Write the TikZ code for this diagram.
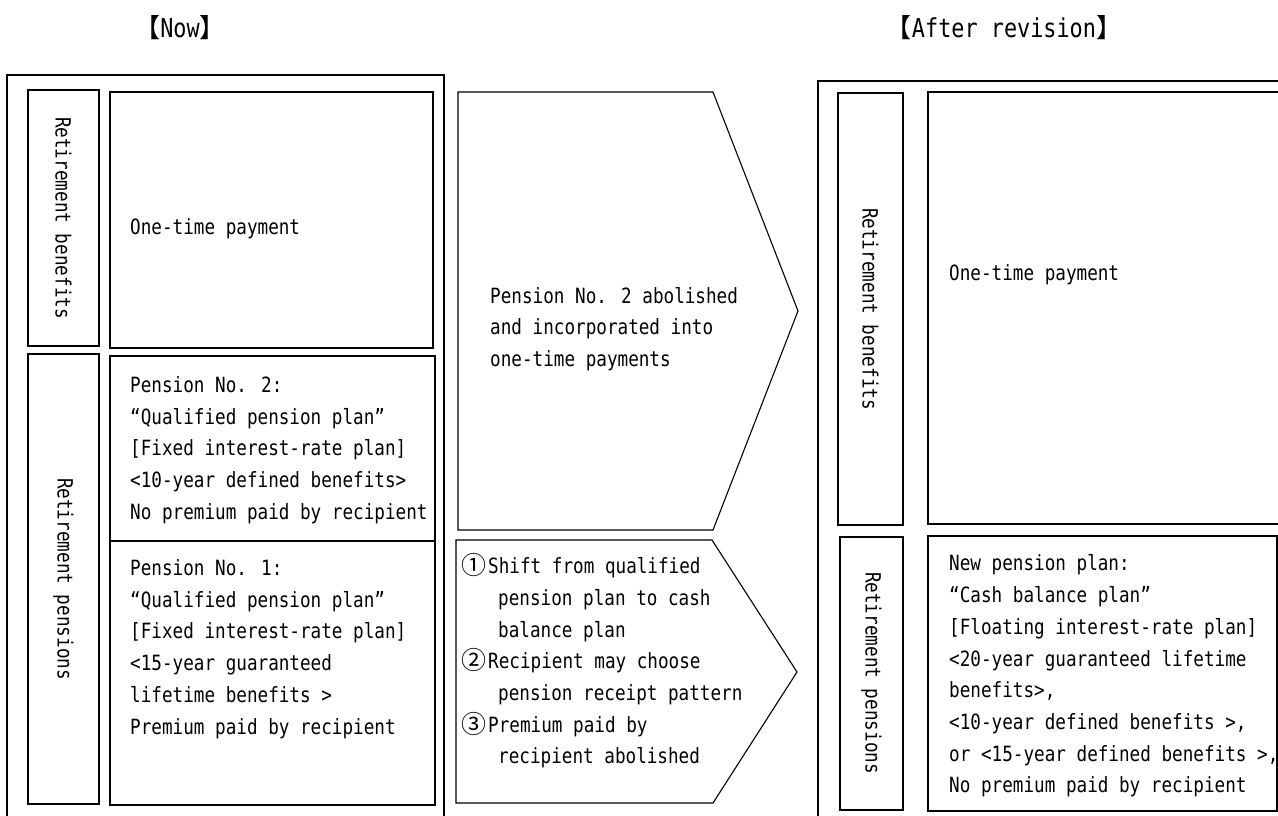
\documentclass[tikz,border=0pt]{standalone}
\usepackage{fontspec}
\newfontfamily\gothic[FakeStretch=0.84]{DejaVu Sans Mono}
\newfontfamily\cjk{Noto Sans CJK JP}
\newfontfamily\cjkh[RawFeature=+halt]{Noto Sans CJK JP}
\newcommand{\circd}[1]{\makebox[27pt][l]{\raisebox{-1pt}{\cjk\fontsize{25}{25}\selectfont #1}}}
\newcommand{\indt}{\hspace*{37pt}}
\begin{document}
\begin{tikzpicture}[x=1pt,y=-1pt,
  box/.style={draw=black, line width=1.2pt},
  txt/.style={font=\gothic\fontsize{21}{31.7}\selectfont, anchor=west, align=left, inner sep=0pt},
  vlab/.style={font=\gothic\fontsize{21}{26}\selectfont, rotate=-90, inner sep=0pt},
  head/.style={font=\gothic\fontsize{26}{30}\selectfont, inner sep=0pt}]
\useasboundingbox (0,0) rectangle (1278,816);
\fill[white] (0,0) rectangle (1278,816);
\clip (0,0) rectangle (1278,816);

% headers
\node[head] (hnow) at (180,28) {{\cjkh 【}Now{\cjkh 】}};
\node[head] (hafter) at (1004,28) {{\cjkh 【}After revision{\cjkh 】}};

% left frame
\draw[box] (7,75) rectangle (444,840);
\draw[box] (28,90) rectangle (99,346);
\draw[box] (28,354) rectangle (99,804);
\draw[box] (110,92) rectangle (433,348);
\draw[box] (110,356) rectangle (435,805);
\draw[box] (110,541) -- (435,541);
\node[vlab] (lben) at (63.5,218) {Retirement benefits};
\node[vlab] (lpen) at (63.5,579) {Retirement pensions};
\node[txt] (lone) at (130,229) {One-time payment};
\node[txt] (lp2) at (130,450) {Pension No. 2:\\“Qualified pension plan”\\{}[Fixed interest-rate plan]\\<10-year defined benefits>\\No premium paid by recipient};
\node[txt] (lp1) at (130,649) {Pension No. 1:\\“Qualified pension plan”\\{}[Fixed interest-rate plan]\\<15-year guaranteed\\lifetime benefits >\\Premium paid by recipient};

% middle arrows
\draw[box, line width=1.1pt] (458,92) -- (713,92) -- (798,311) -- (713,530) -- (458,530) -- cycle;
\draw[box, line width=1.1pt] (456,540) -- (712,540) -- (797,672) -- (713,803) -- (456,803) -- cycle;
\node[txt] (a1) at (490,329) {Pension No. 2 abolished\\and incorporated into\\one-time payments};
\node[txt] (a2) at (461,661) {\circd{①}Shift from qualified\\\indt pension plan to cash\\\indt balance plan\\\circd{②}Recipient may choose\\\indt pension receipt pattern\\\circd{③}Premium paid by\\\indt recipient abolished};

% right frame
\draw[box] (818,81) rectangle (1300,840);
\draw[box] (838,93) rectangle (903,525);
\draw[box] (840,537) rectangle (903,810);
\draw[box] (928,92) rectangle (1300,524);
\draw[box] (928,536) rectangle (1277,811);
\node[vlab] (rben) at (870.5,309) {Retirement benefits};
\node[vlab] (rpen) at (871.5,673) {Retirement pensions};
\node[txt] (rone) at (949,275) {One-time payment};
\node[txt] (rnew) at (949,676) {New pension plan:\\“Cash balance plan”\\{}[Floating interest-rate plan]\\<20-year guaranteed lifetime\\benefits>,\\<10-year defined benefits >,\\or <15-year defined benefits >,\\No premium paid by recipient};
\end{tikzpicture}
\end{document}
